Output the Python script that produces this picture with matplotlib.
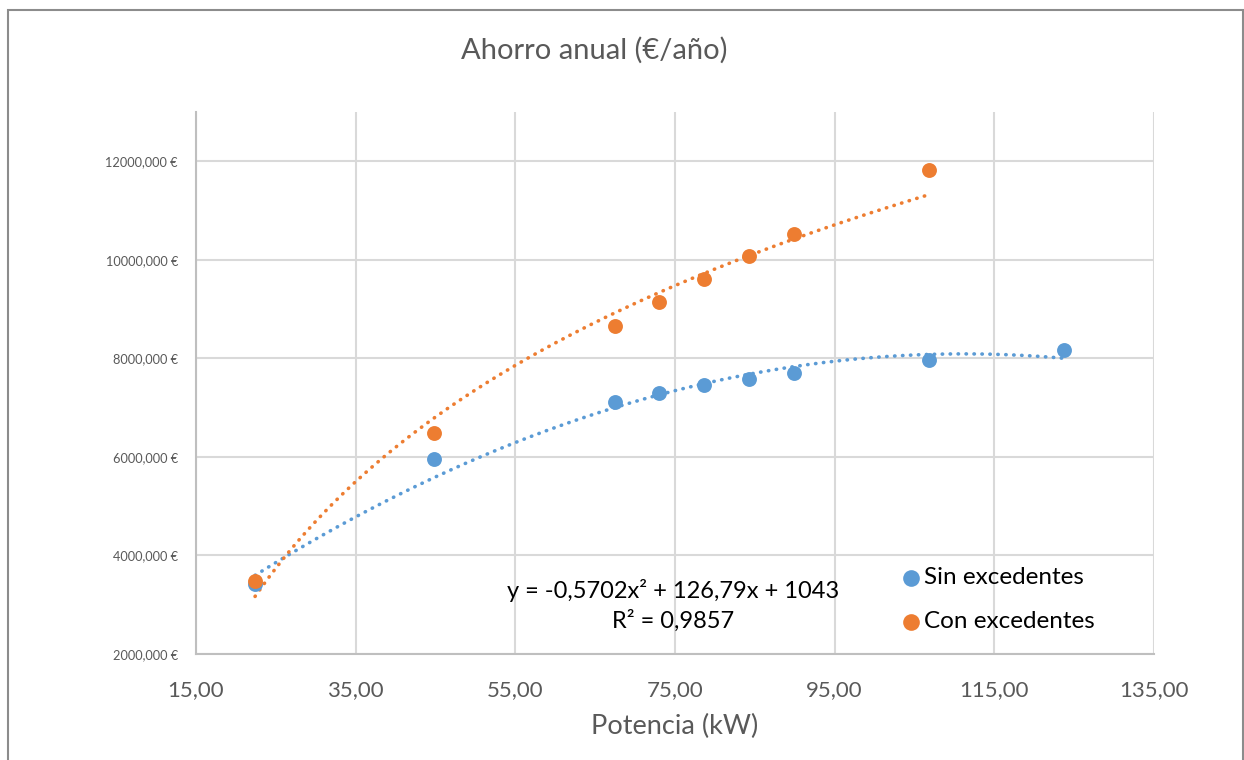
import numpy as np
import matplotlib.pyplot as plt
from matplotlib.ticker import FuncFormatter
from matplotlib.patches import Rectangle

plt.rcParams['font.family'] = ['Lato', 'DejaVu Sans']

# potencia (kW)
potencia_sin = [22.4, 44.8, 67.5, 73.0, 78.6, 84.3, 89.9, 106.8, 123.7]
ahorro_sin = [3420, 5955, 7112, 7294, 7456, 7578, 7700, 7963, 8166]

potencia_con = [22.4, 44.8, 67.5, 73.0, 78.6, 84.3, 89.9, 106.8]
ahorro_con = [3480, 6483, 8653, 9140, 9606, 10073, 10519, 11817]

# polynomial trend coefficients shown on the chart (Sin excedentes)
poly_coef = [-0.5702, 126.79, 1043]

blue = '#5B9BD5'
orange = '#ED7D31'
grid_c = '#D9D9D9'
text_c = '#595959'

fig = plt.figure(figsize=(12.44, 7.60), dpi=100)
ax = fig.add_axes([196 / 1244, 1 - 654 / 760, 958 / 1244, 542 / 760])

# outer chart frame
fig.patches.append(Rectangle((8 / 1244, -0.01), 1235 / 1244, 1 - 10 / 760 + 0.01,
                             transform=fig.transFigure, fill=False,
                             edgecolor='#8C8C8C', lw=1.5))

# trend lines
xs = np.linspace(min(potencia_sin), max(potencia_sin), 200)
ax.plot(xs, np.polyval(poly_coef, xs), color=blue, lw=2.6,
        linestyle=(0, (0.1, 2.1)), dash_capstyle='round', zorder=3)

log_coef = np.polyfit(np.log(potencia_con), ahorro_con, 1)
xc = np.linspace(min(potencia_con), max(potencia_con), 200)
ax.plot(xc, np.polyval(log_coef, np.log(xc)), color=orange, lw=2.6,
        linestyle=(0, (0.1, 2.1)), dash_capstyle='round', zorder=3)

# points
ax.scatter(potencia_sin, ahorro_sin, s=115, color=blue, zorder=4,
           label='Sin excedentes', linewidths=0)
ax.scatter(potencia_con, ahorro_con, s=115, color=orange, zorder=5,
           label='Con excedentes', linewidths=0)

ax.set_xlim(15, 135)
ax.set_ylim(2000, 13000)
ax.set_xticks(np.arange(15, 136, 20))
ax.set_yticks(np.arange(2000, 12001, 2000))
ax.xaxis.set_major_formatter(FuncFormatter(lambda v, p: f'{v:.2f}'.replace('.', ',')))
ax.yaxis.set_major_formatter(FuncFormatter(lambda v, p: f'{v:.3f}'.replace('.', ',') + ' €'))
ax.tick_params(axis='x', length=0, labelsize=16, colors=text_c, pad=19)
ax.tick_params(axis='y', length=0, labelsize=9.2, colors=text_c, pad=13)

ax.grid(True, color=grid_c, lw=1.5)
ax.set_axisbelow(True)
for s in ['top', 'right']:
    ax.spines[s].set_visible(False)
for s in ['left', 'bottom']:
    ax.spines[s].set_color('#BFBFBF')
    ax.spines[s].set_linewidth(1.5)

ax.set_xlabel('Potencia (kW)', fontsize=19.5, color=text_c, labelpad=10)
fig.text(594 / 1244, 1 - 50 / 760, 'Ahorro anual (€/año)', fontsize=21,
         color=text_c, ha='center', va='center')

ax.text(74.75, 2990, 'y = -0,5702x² + 126,79x + 1043\nR² = 0,9857', fontsize=17,
        ha='center', va='center', linespacing=1.45, color='black')

leg = ax.legend(loc='upper left', bbox_to_anchor=(0.721, 0.183), frameon=False,
                fontsize=17.5, handletextpad=0.05, labelspacing=0.95,
                handlelength=1.0, markerscale=1.12, borderpad=0)

fig.savefig('out.png', dpi=100)
